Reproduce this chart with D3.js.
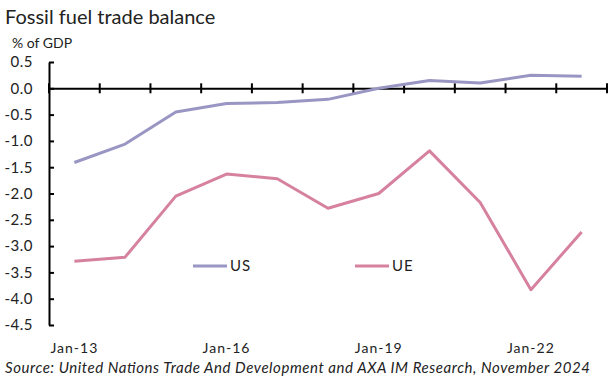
<!DOCTYPE html>
<html><head><meta charset="utf-8">
<script src="https://cdn.jsdelivr.net/npm/d3@7"></script>
<style>body{margin:0;background:#fff}svg{display:block}text{font-family:Lato,"Open Sans",sans-serif;fill:#222}</style>
</head><body><svg id="c" width="614" height="379"></svg>
<script>
const years = ["Jan-13","Jan-14","Jan-15","Jan-16","Jan-17","Jan-18","Jan-19","Jan-20","Jan-21","Jan-22","Jan-23"];
const tickLabels = ["Jan-13","Jan-16","Jan-19","Jan-22"];
const usValues = [-1.41,-1.06,-0.45,-0.29,-0.27,-0.21,0.0,0.15,0.10,0.25,0.23];
const ueValues = [-3.29,-3.21,-2.05,-1.63,-1.72,-2.28,-2.0,-1.19,-2.17,-3.83,-2.73];
const yTicks = [0.5,0,-0.5,-1,-1.5,-2,-2.5,-3,-3.5,-4,-4.5];
const seriesNames = ["US","UE"];
const colors = ["#9a96c3","#d6819f"];

const svg = d3.select("#c");
const x = d3.scaleBand().domain(years).range([49,607]);
const y = d3.scaleLinear().domain([-4.5,0.5]).range([325,62]);

svg.append("text").attr("x",5).attr("y",24).attr("font-size",20).text("Fossil fuel trade balance");
svg.append("text").attr("x",12).attr("y",48).attr("font-size",14).text("% of GDP");

// y axis
const ya = svg.append("g").attr("transform","translate(49,0)")
  .call(d3.axisLeft(y).tickValues(yTicks).tickFormat(d3.format(".1f")).tickSizeInner(-5).tickSizeOuter(0).tickPadding(16));
ya.select(".domain").attr("stroke","#000").attr("stroke-width",2);
ya.selectAll(".tick line").attr("stroke","#000").attr("stroke-width",2);
ya.selectAll(".tick text").attr("font-size",15).attr("font-family","Lato,sans-serif").attr("fill","#222")
  .attr("letter-spacing",0.5).text(d=>d3.format(".1f")(d).replace("−","-"));

// x axis at zero
const xa = svg.append("g").attr("transform",`translate(0,${y(0)})`)
  .call(d3.axisBottom(x).tickValues(years).tickSize(0).tickFormat(""));
xa.select(".domain").attr("stroke","#000").attr("stroke-width",2);
xa.selectAll(".tick").remove();
const bounds = years.map(d=>x(d)).concat([x.range()[1]]);
svg.append("g").selectAll("line").data(bounds).join("line")
  .attr("x1",d=>d).attr("x2",d=>d).attr("y1",y(0)-5).attr("y2",y(0)+5)
  .attr("stroke","#000").attr("stroke-width",2);

// x labels
svg.append("g").selectAll("text").data(tickLabels).join("text")
  .attr("x",d=>x(d)+x.bandwidth()/2).attr("y",353).attr("text-anchor","middle").attr("font-size",14)
  .attr("letter-spacing",1).text(d=>d);

const line = d3.line().x((d,i)=>x(years[i])+x.bandwidth()/2).y(d=>y(d));
[usValues,ueValues].forEach((vals,i)=>{
  svg.append("path").datum(vals).attr("d",line).attr("fill","none").attr("stroke",colors[i]).attr("stroke-width",3).attr("stroke-linejoin","round");
});

// legend
const legX = [193,355];
seriesNames.forEach((n,i)=>{
  svg.append("line").attr("x1",legX[i]).attr("x2",legX[i]+34).attr("y1",266).attr("y2",266).attr("stroke",colors[i]).attr("stroke-width",3);
  svg.append("text").attr("x",legX[i]+37).attr("y",271).attr("font-size",15).attr("letter-spacing",1).text(n);
});

svg.append("text").attr("x",5).attr("y",373).attr("font-size",15).attr("font-style","italic")
  .attr("textLength",585).attr("lengthAdjust","spacing")
  .text("Source: United Nations Trade And Development and AXA IM Research, November 2024");
</script></body></html>
